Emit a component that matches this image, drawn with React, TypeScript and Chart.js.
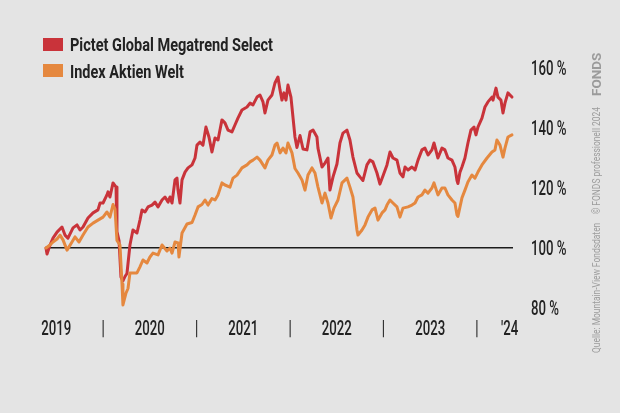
import React, { useEffect, useRef } from 'react';
import { Chart, registerables } from 'chart.js';

Chart.register(...registerables);

const fundName = 'Pictet Global Megatrend Select';
const indexName = 'Index Aktien Welt';
const sourceText = 'Quelle: Mountain-View Fondsdaten\u00a0\u00a0\u00a0\u00a0© FONDS professionell 2024';
const logoText = 'FONDS';

const fundDates = [
  2018.890, 2018.901, 2018.933, 2018.965, 2019.008, 2019.061, 2019.093, 2019.125, 2019.179, 2019.222,
  2019.254, 2019.286, 2019.339, 2019.393, 2019.446, 2019.468, 2019.500, 2019.542, 2019.553, 2019.574,
  2019.607, 2019.639, 2019.649, 2019.671, 2019.692, 2019.713, 2019.735, 2019.756, 2019.788, 2019.820,
  2019.863, 2019.895, 2019.917, 2019.949, 2019.981, 2020.024, 2020.056, 2020.088, 2020.131, 2020.163,
  2020.195, 2020.216, 2020.238, 2020.270, 2020.291, 2020.302, 2020.323, 2020.345, 2020.377, 2020.409,
  2020.452, 2020.484, 2020.505, 2020.537, 2020.569, 2020.601, 2020.633, 2020.665, 2020.698, 2020.730,
  2020.772, 2020.804, 2020.837, 2020.879, 2020.911, 2020.943, 2020.986, 2021.040, 2021.072, 2021.104,
  2021.147, 2021.179, 2021.211, 2021.232, 2021.264, 2021.307, 2021.339, 2021.371, 2021.393, 2021.414,
  2021.435, 2021.457, 2021.478, 2021.510, 2021.553, 2021.574, 2021.607, 2021.639, 2021.681, 2021.714,
  2021.746, 2021.788, 2021.799, 2021.842, 2021.874, 2021.906, 2021.927, 2021.960, 2022.002, 2022.034,
  2022.066, 2022.109, 2022.141, 2022.173, 2022.216, 2022.248, 2022.280, 2022.323, 2022.355, 2022.387,
  2022.430, 2022.462, 2022.494, 2022.537, 2022.569, 2022.601, 2022.644, 2022.676, 2022.708, 2022.730,
  2022.762, 2022.804, 2022.837, 2022.869, 2022.911, 2022.943, 2022.976, 2023.018, 2023.040, 2023.082,
  2023.125, 2023.157, 2023.189, 2023.232, 2023.264, 2023.286, 2023.296, 2023.318, 2023.339, 2023.371,
  2023.403, 2023.435, 2023.468, 2023.489, 2023.510, 2023.553, 2023.585, 2023.617, 2023.660, 2023.671,
  2023.703, 2023.724, 2023.756, 2023.778, 2023.799, 2023.831, 2023.853, 2023.874,
];

const fundValues = [
  100, 98, 101, 103.3, 105.3, 107, 104.3, 103.3, 106.7, 107.7,
  106, 107, 110, 111.7, 112.7, 115, 115, 117.7, 118.7, 117,
  121.7, 120.3, 105.5, 102.5, 90.3, 89, 90.5, 91.5, 101, 106,
  105, 109.3, 112.7, 112, 113.7, 114.3, 115.3, 113.7, 116, 117,
  115.3, 117, 115, 122.7, 123.3, 119.3, 115, 122.7, 125.3, 126.7,
  127.7, 130, 134.3, 135.3, 134.3, 140.3, 137, 132, 136.7, 136,
  142.7, 141.7, 139.3, 138.7, 141, 143.3, 146, 147, 148.3, 147.7,
  150.3, 151, 148.7, 145, 149.3, 151, 155, 157, 152.7, 149.3,
  151.7, 149.3, 154.3, 150.3, 137, 133.5, 137.5, 133, 132.7, 138.7,
  139.3, 137, 133.3, 127, 128.3, 130, 119.3, 123.7, 128, 135,
  138.3, 139.3, 136, 130.3, 125, 123.7, 122.5, 127.7, 129.3, 128.7,
  125, 121.3, 124, 127.7, 132, 130, 129.3, 125, 123.7, 127,
  126, 127, 126, 129.3, 132.7, 133.3, 131, 132.7, 135, 130,
  133.3, 132.7, 130, 129.3, 127, 122.5, 121.5, 125.3, 127, 130,
  135, 139.3, 140.3, 137.7, 140.3, 143.3, 147, 148.7, 150.3, 149.3,
  153.3, 150.3, 149.3, 145, 148.3, 151.7, 151, 150.3,
];

const indexDates = [
  2018.890, 2018.933, 2018.965, 2019.008, 2019.040, 2019.072, 2019.115, 2019.168, 2019.200, 2019.243,
  2019.286, 2019.339, 2019.393, 2019.446, 2019.500, 2019.542, 2019.574, 2019.607, 2019.628, 2019.649,
  2019.681, 2019.703, 2019.713, 2019.746, 2019.767, 2019.788, 2019.863, 2019.895, 2019.927, 2019.970,
  2020.002, 2020.034, 2020.088, 2020.131, 2020.184, 2020.216, 2020.238, 2020.270, 2020.302, 2020.312,
  2020.345, 2020.398, 2020.452, 2020.484, 2020.516, 2020.558, 2020.591, 2020.623, 2020.665, 2020.698,
  2020.730, 2020.772, 2020.804, 2020.858, 2020.890, 2020.933, 2020.986, 2021.040, 2021.072, 2021.104,
  2021.147, 2021.179, 2021.232, 2021.264, 2021.307, 2021.339, 2021.361, 2021.393, 2021.425, 2021.457,
  2021.478, 2021.521, 2021.553, 2021.585, 2021.628, 2021.660, 2021.692, 2021.735, 2021.767, 2021.799,
  2021.842, 2021.874, 2021.906, 2021.938, 2021.970, 2022.013, 2022.056, 2022.109, 2022.141, 2022.173,
  2022.216, 2022.227, 2022.270, 2022.302, 2022.334, 2022.377, 2022.409, 2022.441, 2022.484, 2022.516,
  2022.537, 2022.569, 2022.601, 2022.644, 2022.676, 2022.708, 2022.762, 2022.804, 2022.837, 2022.869,
  2022.911, 2022.943, 2022.976, 2023.018, 2023.040, 2023.082, 2023.125, 2023.157, 2023.189, 2023.232,
  2023.264, 2023.286, 2023.296, 2023.339, 2023.371, 2023.403, 2023.446, 2023.478, 2023.510, 2023.553,
  2023.607, 2023.660, 2023.692, 2023.713, 2023.746, 2023.778, 2023.799, 2023.831, 2023.874,
];

const indexValues = [
  100, 101, 102, 103, 104.3, 102.7, 99.3, 102, 103.7, 102,
  104.3, 107, 108.3, 109.3, 110.3, 112, 110.3, 114.5, 113, 102.5,
  101, 88, 81, 85, 86.5, 91.7, 91.7, 93.7, 96, 95,
  97, 98.3, 97.7, 101, 99, 100, 98.3, 102, 101.7, 97,
  105, 108, 108.5, 111, 113.7, 114.5, 116, 114.3, 116.5, 116,
  117.7, 121.7, 121, 120.3, 123.3, 124.3, 126.7, 127.7, 128.7, 129.3,
  130.3, 129.3, 126.7, 129.3, 131, 134.3, 135, 131.7, 133.3, 131.7,
  135, 131.7, 126.5, 125, 122.7, 119.3, 124.3, 126.7, 125, 120.3,
  115, 118.3, 115, 110, 113.3, 116, 121.7, 123.3, 120.3, 117,
  106, 104.3, 106, 107.7, 110.3, 112.7, 113.3, 109.3, 111.7, 112.7,
  114.3, 116, 115, 113.7, 110.3, 113.3, 113.7, 114.3, 115, 117,
  117.7, 119.3, 118.3, 120, 121.7, 117.7, 120, 120, 117.7, 116,
  115, 111, 110.5, 116.7, 119.3, 122, 124.3, 123.3, 125.3, 127.7,
  130, 132, 132.7, 136, 134.3, 130.3, 133.3, 137, 137.7,
];

const yTickValues = [80, 100, 120, 140, 160];
const xTickValues = [2019, 2019.5, 2020, 2020.5, 2021, 2021.5, 2022, 2022.5, 2023, 2023.5, 2023.85];
const xTickLabels = ['2019', '|', '2020', '|', '2021', '|', '2022', '|', '2023', '|', "'24"];

const BG = '#e4e4e4';
const RED = '#c9333a';
const ORANGE = '#e5883f';
const TEXT = '#222222';
const FONT = "Roboto, 'DejaVu Sans Condensed', sans-serif";
const TICK_SIZE = 20;
const TICK_SQUEEZE = 0.66;

function measure(text: string, font: string): number {
  const c = document.createElement('canvas').getContext('2d');
  if (!c) return 0;
  c.font = font;
  return c.measureText(text).width;
}

// draws tick labels of the chart's own scales in a condensed face
const condensedTicks = {
  id: 'condensedTicks',
  afterDraw(chart: any) {
    const ctx = chart.ctx;
    ctx.save();
    ctx.fillStyle = TEXT;
    ctx.font = `500 ${TICK_SIZE}px ${FONT}`;
    ctx.textBaseline = 'alphabetic';
    const half = TICK_SIZE * 0.711 / 2;
    const xs = chart.scales.x;
    ctx.textAlign = 'center';
    xs.ticks.forEach((t: any, i: number) => {
      const label = t.label != null ? String(t.label) : xTickLabels[i];
      ctx.save();
      ctx.translate(xs.getPixelForValue(t.value), xs.top + 19.5 + half);
      ctx.scale(TICK_SQUEEZE, 1);
      ctx.fillText(label, 0, 0);
      ctx.restore();
    });
    const ys = chart.scales.y;
    ctx.textAlign = 'left';
    ys.ticks.forEach((t: any) => {
      const label = t.label != null ? String(t.label) : `${t.value} %`;
      ctx.save();
      ctx.translate(ys.left + 18, ys.getPixelForValue(t.value) + half);
      ctx.scale(TICK_SQUEEZE, 1);
      ctx.fillText(label, 0, 0);
      ctx.restore();
    });
    ctx.restore();
  },
};

export default function App() {
  const ref = useRef<HTMLCanvasElement>(null);

  useEffect(() => {
    document.body.style.margin = '0';
    document.body.style.background = BG;
    const canvas = ref.current;
    if (!canvas) return;
    const chart = new Chart(canvas, {
      type: 'line',
      data: {
        datasets: [
          {
            label: indexName,
            data: indexDates.map((d, i) => ({ x: d, y: indexValues[i] })),
            borderColor: ORANGE,
            borderWidth: 3,
            pointRadius: 0,
            tension: 0,
            borderJoinStyle: 'round',
            borderCapStyle: 'round',
            clip: false,
          },
          {
            label: fundName,
            data: fundDates.map((d, i) => ({ x: d, y: fundValues[i] })),
            borderColor: RED,
            borderWidth: 3,
            pointRadius: 0,
            tension: 0,
            borderJoinStyle: 'round',
            borderCapStyle: 'round',
            clip: false,
          },
        ],
      },
      options: {
        responsive: false,
        animation: false,
        devicePixelRatio: 1,
        layout: { padding: { left: 46, top: 68, right: 47, bottom: 65 } },
        plugins: { legend: { display: false }, tooltip: { enabled: false } },
        scales: {
          x: {
            type: 'linear',
            min: 2018.89,
            max: 2023.885,
            afterBuildTicks: (s: any) => {
              s.ticks = xTickValues.map((v) => ({ value: v }));
            },
            afterFit: (s: any) => {
              s.height = 40;
            },
            grid: { display: false, drawTicks: false },
            border: { display: false },
            ticks: {
              display: false,
              autoSkip: false,
              callback: (_v: any, i: number) => xTickLabels[i],
            },
          },
          y: {
            position: 'right',
            min: 80,
            max: 160,
            afterBuildTicks: (s: any) => {
              s.ticks = yTickValues.map((v) => ({ value: v }));
            },
            afterFit: (s: any) => {
              s.width = 60;
            },
            grid: {
              drawTicks: false,
              lineWidth: 1.5,
              color: (c: any) => (c.tick && c.tick.value === 100 ? '#1c1c1c' : 'rgba(0,0,0,0)'),
            },
            border: { display: false },
            ticks: {
              display: false,
              callback: (v: any) => `${v} %`,
            },
          },
        },
      },
      plugins: [condensedTicks],
    });
    return () => chart.destroy();
  }, []);

  const legendFont = `bold 18.5px ${FONT}`;
  const k1 = 203 / (measure(fundName, legendFont) || 203);
  const k2 = 114 / (measure(indexName, legendFont) || 114);
  const srcFont = `11px ${FONT}`;
  const k3 = 246 / (measure(sourceText, srcFont) || 246);

  const legendText: React.CSSProperties = {
    position: 'absolute',
    left: 70,
    fontFamily: FONT,
    fontWeight: 'bold',
    fontSize: 18.5,
    lineHeight: '18.5px',
    color: TEXT,
    whiteSpace: 'nowrap',
    transformOrigin: '0 0',
  };

  return (
    <div style={{ position: 'relative', width: 620, height: 413, background: BG, overflow: 'hidden' }}>
      <canvas ref={ref} width={620} height={413} style={{ position: 'absolute', left: 0, top: 0, width: 620, height: 413 }} />
      <div style={{ position: 'absolute', left: 43, top: 38, width: 20, height: 13, background: RED }} />
      <div style={{ ...legendText, top: 36, transform: `scaleX(${k1})` }}>{fundName}</div>
      <div style={{ position: 'absolute', left: 43, top: 64, width: 20, height: 13, background: ORANGE }} />
      <div style={{ ...legendText, top: 62.5, transform: `scaleX(${k2})` }}>{indexName}</div>
      <div
        style={{
          position: 'absolute',
          left: 590,
          top: 353,
          fontFamily: FONT,
          fontSize: 11,
          lineHeight: '13px',
          color: '#9c9c9c',
          whiteSpace: 'nowrap',
          transformOrigin: '0 0',
          transform: `rotate(-90deg) scale(${k3}, 1)`,
        }}
      >
        {sourceText}
      </div>
      <div
        style={{
          position: 'absolute',
          left: 589,
          top: 96,
          fontFamily: FONT,
          fontWeight: 'bold',
          fontSize: 13.5,
          lineHeight: '14px',
          color: '#9b9b9b',
          whiteSpace: 'nowrap',
          transformOrigin: '0 0',
          transform: 'rotate(-90deg)',
        }}
      >
        {logoText}
      </div>
    </div>
  );
}
